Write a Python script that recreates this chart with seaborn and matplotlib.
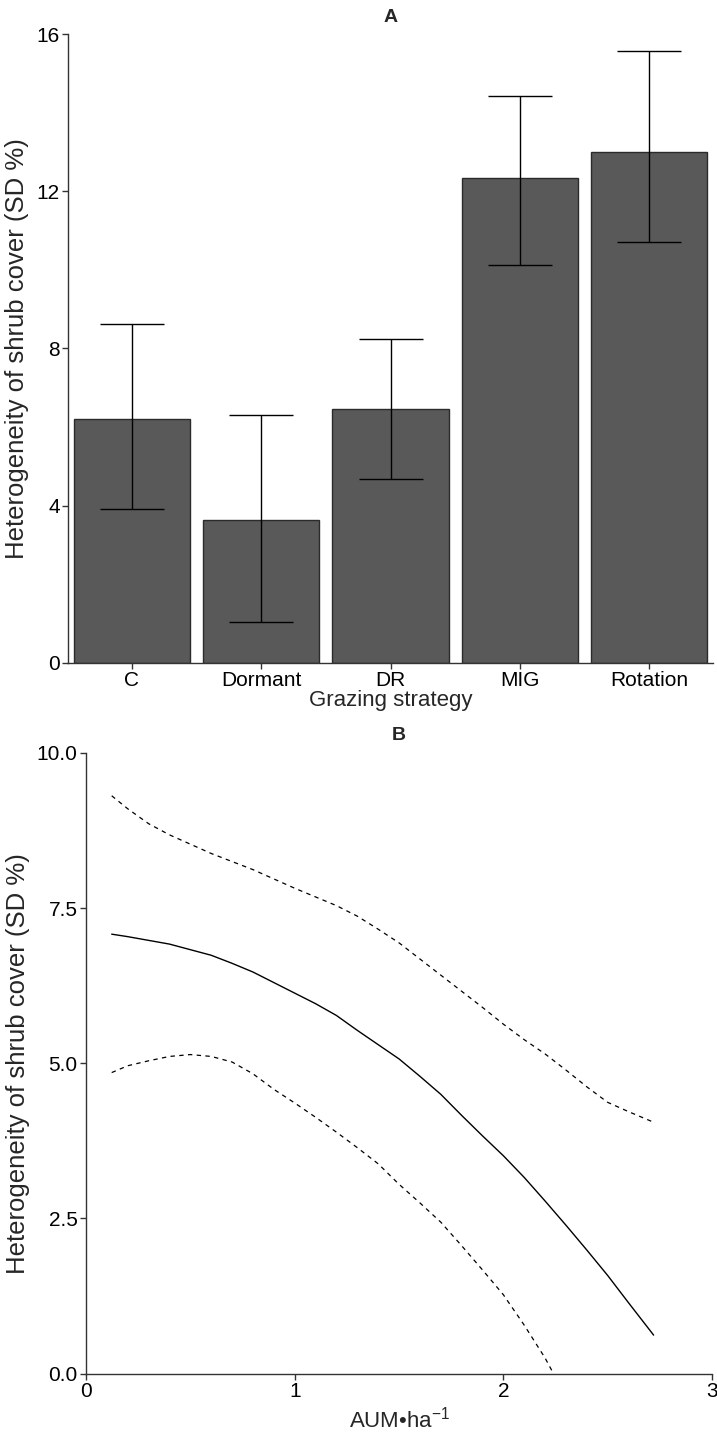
import numpy as np
import pandas as pd
import matplotlib
matplotlib.use("Agg")
import matplotlib.pyplot as plt
import seaborn as sns

# ---------------- data ----------------
strategies = ["C", "Dormant", "DR", "MIG", "Rotation"]
sd_mean = [6.20, 3.64, 6.45, 12.34, 13.01]
sd_low = [3.91, 1.04, 4.67, 10.12, 10.70]
sd_high = [8.62, 6.32, 8.24, 14.42, 15.57]

aum = [0.123, 0.2, 0.3, 0.4, 0.5, 0.6, 0.7, 0.8, 0.9, 1.0, 1.1, 1.2, 1.3, 1.4,
       1.5, 1.6, 1.7, 1.8, 1.9, 2.0, 2.1, 2.2, 2.3, 2.4, 2.5, 2.6, 2.72]
fit = [7.08, 7.04, 6.98, 6.92, 6.83, 6.74, 6.61, 6.47, 6.30, 6.13, 5.96, 5.77,
       5.53, 5.30, 5.07, 4.79, 4.50, 4.16, 3.83, 3.51, 3.16, 2.78, 2.39, 1.99,
       1.58, 1.14, 0.62]
upper = [9.31, 9.10, 8.86, 8.68, 8.53, 8.38, 8.25, 8.12, 7.97, 7.82, 7.68, 7.54,
         7.37, 7.16, 6.94, 6.68, 6.42, 6.16, 5.90, 5.63, 5.38, 5.15, 4.89, 4.62,
         4.37, 4.22, 4.05]
aum_low = [0.123, 0.2, 0.3, 0.4, 0.5, 0.6, 0.7, 0.8, 0.9, 1.0, 1.1, 1.2, 1.3,
           1.4, 1.5, 1.6, 1.7, 1.8, 1.9, 2.0, 2.1, 2.2, 2.24]
lower = [4.85, 4.96, 5.04, 5.11, 5.14, 5.11, 5.02, 4.83, 4.58, 4.36, 4.13, 3.89,
         3.64, 3.38, 3.05, 2.75, 2.44, 2.06, 1.67, 1.27, 0.78, 0.25, 0.0]

ylabel = "Heterogeneity of shrub cover (SD %)"

# ---------------- style ----------------
sns.set_theme(style="ticks")
plt.rcParams["font.family"] = ["Liberation Sans", "DejaVu Sans"]
plt.rcParams["mathtext.fontset"] = "custom"
plt.rcParams["mathtext.rm"] = "Liberation Sans"
plt.rcParams["mathtext.it"] = "Liberation Sans"
spine_c = "#333333"

fig = plt.figure(figsize=(7.17, 14.35), dpi=100)
axA = fig.add_axes([0.0948, 0.538, 0.899, 0.4383])
axB = fig.add_axes([0.1200, 0.0428, 0.8731, 0.4325])

# ---------------- panel A ----------------
dfA = pd.DataFrame({"strategy": strategies, "sd": sd_mean})
sns.barplot(data=dfA, x="strategy", y="sd", color="#595959", saturation=1,
            width=0.9, edgecolor="#2b2b2b", linewidth=1.0, ax=axA)
pos = np.arange(len(strategies))
yerr = [np.array(sd_mean) - np.array(sd_low), np.array(sd_high) - np.array(sd_mean)]
axA.errorbar(pos, sd_mean, yerr=yerr, fmt="none", ecolor="black",
             elinewidth=1.0, capsize=23, capthick=1.0)
axA.set_xlim(-0.495, 4.49)
axA.set_ylim(0, 16)
axA.set_yticks([0, 4, 8, 12, 16])
axA.set_xlabel("Grazing strategy", fontsize=16, labelpad=0)
axA.set_ylabel(ylabel, fontsize=18.5, labelpad=5)
axA.set_title("A", fontsize=14, fontweight="bold", pad=9)

# ---------------- panel B ----------------
dfB = pd.DataFrame({"aum": aum, "fit": fit, "upper": upper})
dfL = pd.DataFrame({"aum": aum_low, "lower": lower})
sns.lineplot(data=dfB, x="aum", y="fit", color="black", linewidth=1.0, ax=axB)
sns.lineplot(data=dfB, x="aum", y="upper", color="black", linewidth=0.9,
             linestyle=(0, (3.5, 3.5)), ax=axB)
sns.lineplot(data=dfL, x="aum", y="lower", color="black", linewidth=0.9,
             linestyle=(0, (3.5, 3.5)), ax=axB)
axB.set_xlim(0, 3)
axB.set_ylim(0, 10)
axB.set_xticks([0, 1, 2, 3])
axB.set_yticks([0, 2.5, 5, 7.5, 10])
axB.yaxis.set_major_formatter(matplotlib.ticker.FormatStrFormatter("%.1f"))
axB.set_xlabel("AUM•ha$^{\\mathrm{-1}}$", fontsize=16, labelpad=4)
axB.set_ylabel(ylabel, fontsize=18.5, labelpad=5)
axB.set_title("B", fontsize=14, fontweight="bold", pad=9)

for ax in (axA, axB):
    sns.despine(ax=ax)
    for s in ("left", "bottom"):
        ax.spines[s].set_color(spine_c)
        ax.spines[s].set_linewidth(1.0)
    ax.tick_params(axis="both", labelsize=15, length=4, width=1.0,
                   color=spine_c, labelcolor="black", pad=2)

fig.savefig("out.png", dpi=100)
